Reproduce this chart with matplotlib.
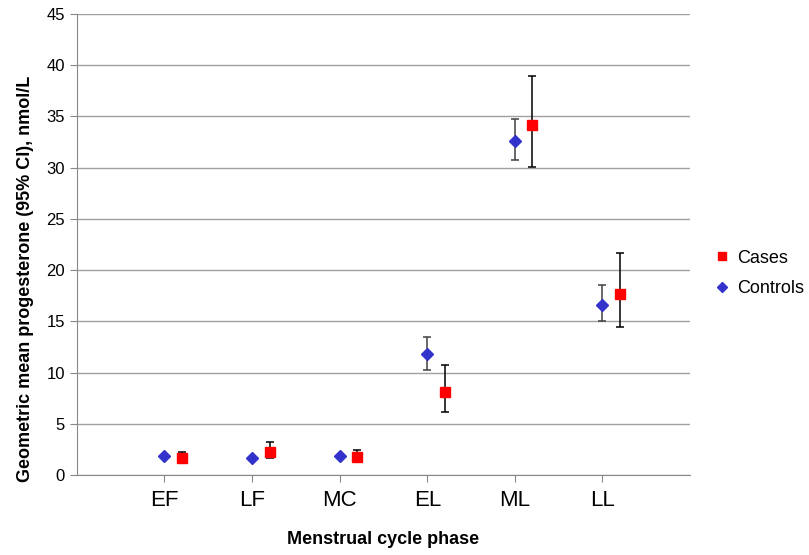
import matplotlib.pyplot as plt

plt.rcParams['font.family'] = ['Liberation Sans', 'DejaVu Sans']

# 月经周期阶段
phases = ['EF', 'LF', 'MC', 'EL', 'ML', 'LL']

# Controls: 几何均值 及 95% CI
controls = [1.86, 1.66, 1.86, 11.8, 32.6, 16.6]
controls_lo = [1.86, 1.66, 1.86, 10.3, 30.7, 15.0]
controls_hi = [1.86, 1.66, 1.86, 13.5, 34.7, 18.5]

# Cases
cases = [1.7, 2.3, 1.8, 8.1, 34.2, 17.7]
cases_lo = [1.4, 1.66, 1.4, 6.2, 30.1, 14.4]
cases_hi = [2.3, 3.2, 2.44, 10.7, 38.9, 21.7]

fig = plt.figure(figsize=(8.09, 5.55), dpi=100)
ax = fig.add_axes([0.095, 0.144, 0.758, 0.831])

x = list(range(1, len(phases) + 1))
x_cases = [i + 0.2 for i in x]

ctrl_err = [[c - l for c, l in zip(controls, controls_lo)],
            [h - c for c, h in zip(controls, controls_hi)]]
case_err = [[c - l for c, l in zip(cases, cases_lo)],
            [h - c for c, h in zip(cases, cases_hi)]]

ax.errorbar(x, controls, yerr=ctrl_err, fmt='none', ecolor='#404040',
            elinewidth=1.1, capsize=3, capthick=1.1, zorder=3)
ax.errorbar(x_cases, cases, yerr=case_err, fmt='none', ecolor='black',
            elinewidth=1.1, capsize=3, capthick=1.1, zorder=3)
ax.plot(x_cases, cases, 's', color='#ff0000', markersize=7, label='Cases', zorder=4)
ax.plot(x, controls, 'D', color='#3333cc', markersize=6.5, label='Controls', zorder=4)

ax.set_xlim(0, 7)
ax.set_ylim(0, 45)
ax.set_yticks(range(0, 46, 5))
ax.set_xticks(x)
ax.set_xticklabels(phases, fontsize=16)
ax.tick_params(axis='y', labelsize=12, length=5, color='#888888')
ax.tick_params(axis='x', length=5, color='#888888', pad=6)

ax.grid(axis='y', color='#a0a0a0', linewidth=1)
ax.set_axisbelow(True)
for s in ['top', 'right']:
    ax.spines[s].set_visible(False)
for s in ['left', 'bottom']:
    ax.spines[s].set_color('#888888')

ax.set_ylabel('Geometric mean progesterone (95% CI), nmol/L', fontsize=13, fontweight='bold')
ax.yaxis.set_label_coords(-0.07, 0.425)
ax.set_xlabel('Menstrual cycle phase', fontsize=13, fontweight='bold')
ax.xaxis.set_label_coords(0.5, -0.122)

ax.legend(loc='center left', bbox_to_anchor=(1.007, 0.437), frameon=False,
          fontsize=13, handletextpad=0.15, handlelength=1.3, labelspacing=0.75,
          markerscale=0.85)

plt.savefig('out.png', dpi=100)
